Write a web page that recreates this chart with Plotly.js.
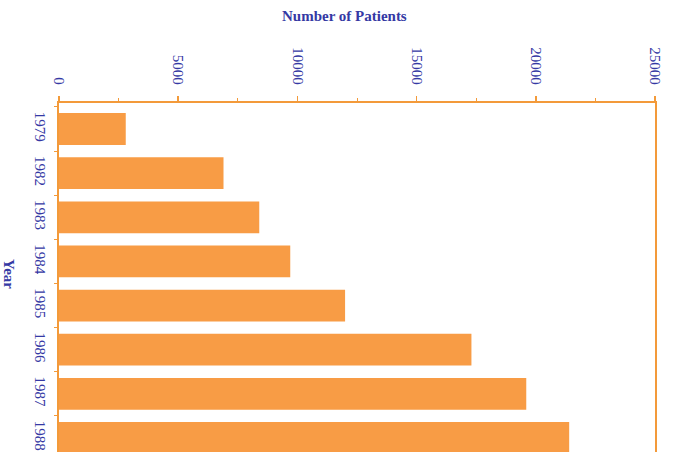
<!DOCTYPE html>
<html>
<head>
<meta charset="utf-8">
<script src="https://cdn.plot.ly/plotly-3.0.1.min.js"></script>
<style>html,body{margin:0;padding:0;background:#fff;}#chart{width:673px;height:452px;}</style>
</head>
<body>
<div id="chart"></div>
<script>
const years = ["1979", "1982", "1983", "1984", "1985", "1986", "1987", "1988"];
const patients = [2800, 6900, 8400, 9700, 12000, 17300, 19600, 21400];
const xTickVals = [0, 5000, 10000, 15000, 20000, 25000];
const xTickText = ["0", "5000", "10000", "15000", "20000", "25000"];

const orange = "#F89C45";
const lineOrange = "#F39A3A";
const blue = "#3539A4";

const trace = {
  type: "bar",
  orientation: "h",
  y: years,
  x: patients,
  marker: {color: orange, line: {width: 0}},
  hoverinfo: "none"
};

const layout = {
  width: 673,
  height: 452,
  margin: {l: 59, r: 18, t: 103, b: 0, pad: 0},
  paper_bgcolor: "#ffffff",
  plot_bgcolor: "#ffffff",
  showlegend: false,
  bargap: 0.28,
  font: {family: "Liberation Serif, serif", color: blue, size: 15},
  xaxis: {
    side: "top",
    range: [0, 25000],
    tickvals: xTickVals,
    ticktext: xTickText,
    tickangle: 90,
    ticks: "outside",
    ticklen: 5,
    tickwidth: 1.5,
    tickcolor: lineOrange,
    minor: {dtick: 2500, ticks: "outside", ticklen: 3, tickcolor: lineOrange, tickwidth: 1, showgrid: false},
    showline: true,
    linecolor: lineOrange,
    linewidth: 2,
    showgrid: false,
    zeroline: false,
    ticklabelstandoff: 6,
    tickfont: {family: "Liberation Serif, serif", color: blue, size: 15},
    fixedrange: true
  },
  yaxis: {
    type: "category",
    range: [7.318, -0.589],
    tickangle: 90,
    ticks: "outside",
    tickson: "boundaries",
    ticklen: 3,
    tickcolor: lineOrange,
    showline: true,
    mirror: true,
    linecolor: lineOrange,
    linewidth: 2,
    showgrid: false,
    zeroline: false,
    ticklabelstandoff: 4,
    tickfont: {family: "Liberation Serif, serif", color: blue, size: 15},
    fixedrange: true
  },
  annotations: [
    {
      text: "<b>Number of Patients</b>",
      xref: "paper", yref: "paper",
      x: (344 - 59) / (673 - 59 - 18), y: 1,
      yshift: 87,
      showarrow: false,
      xanchor: "center", yanchor: "middle",
      font: {family: "Liberation Serif, serif", size: 15, color: blue}
    },
    {
      text: "<b>Year</b>",
      xref: "paper", yref: "paper",
      x: 0, xshift: -50,
      y: 1 - (274 - 103) / (452 - 103),
      textangle: 90,
      showarrow: false,
      xanchor: "center", yanchor: "middle",
      font: {family: "Liberation Serif, serif", size: 15, color: blue}
    }
  ]
};

Plotly.newPlot("chart", [trace], layout, {displayModeBar: false, staticPlot: true});
</script>
</body>
</html>
